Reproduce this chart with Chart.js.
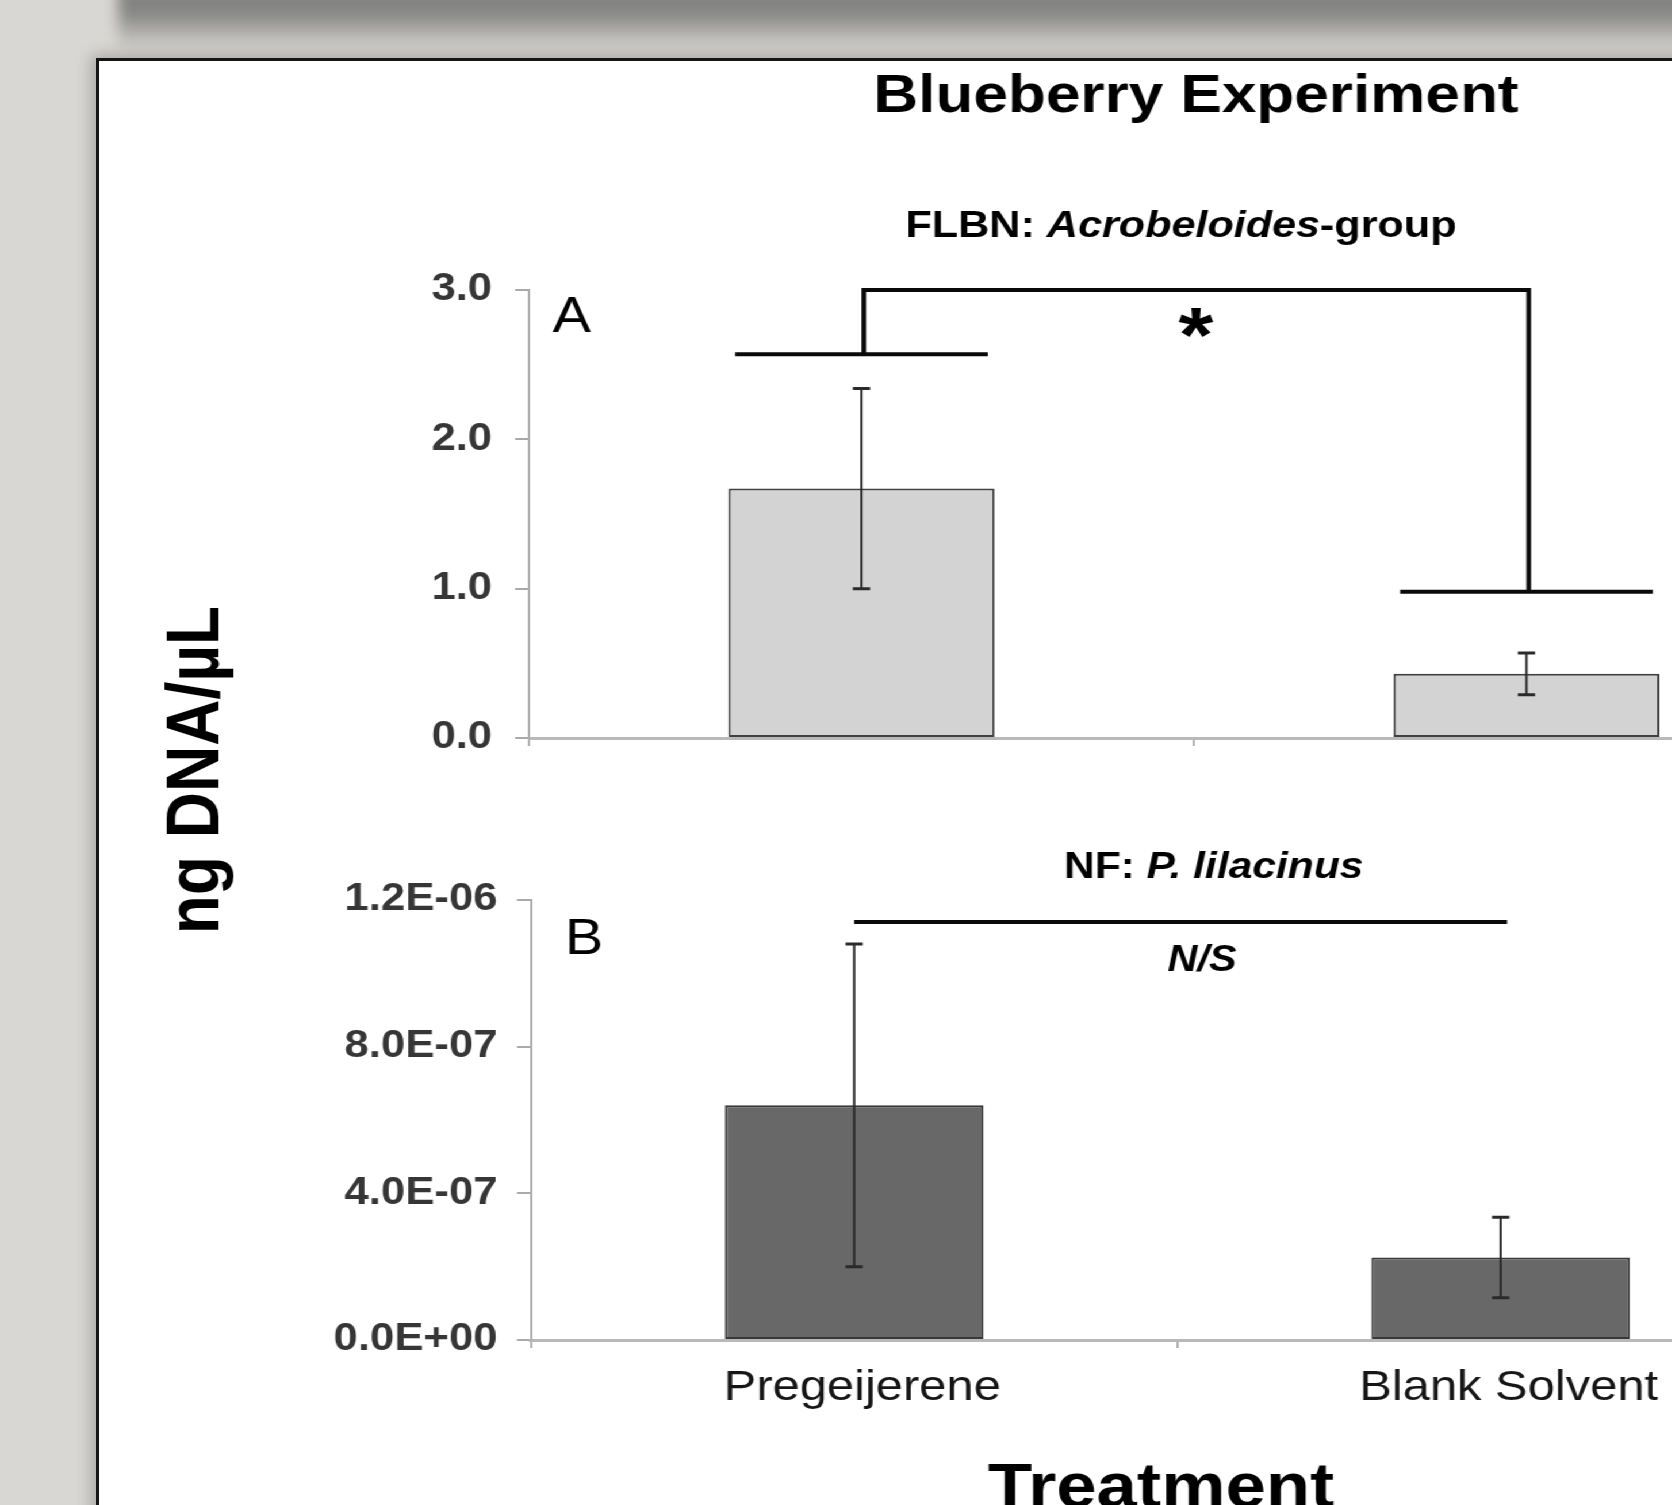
<!DOCTYPE html>
<html>
<head>
<meta charset="utf-8">
<script src="https://cdn.jsdelivr.net/npm/chart.js@4.4.1/dist/chart.umd.min.js"></script>
<style>
  html, body { margin: 0; padding: 0; width: 1672px; height: 1505px; overflow: hidden; background: #d8d7d3; }
  #shade { position: absolute; left: 118px; top: -12px; width: 1700px; height: 64px;
           background: linear-gradient(#7d7d7b 0%, #878785 40%, #b9b8b4 75%, #d5d4d0 100%); filter: blur(7px); }
  #panel { position: absolute; left: 96px; top: 58px; width: 1700px; height: 1600px; background: #fff;
           border-left: 3px solid #151515; border-top: 3px solid #151515; box-shadow: -5px -3px 14px rgba(0,0,0,0.22); }
  /* the figure is drawn slightly wide: everything inside is stretched horizontally */
  #stretch { position: absolute; left: 0; top: 0; width: 1700px; height: 1600px; transform: scaleX(1.15); transform-origin: 0 0; }
  #stretch canvas { position: absolute; left: 0; }
  #chartA { top: 60px; }
  #chartB { top: 780px; }
</style>
</head>
<body>
<div id="shade"></div>
<div id="panel"></div>
<div id="stretch">
  <canvas id="chartA" width="1700" height="940"></canvas>
  <canvas id="chartB" width="1700" height="780"></canvas>
</div>
<script>
// Treatments
const categories = ['Pregeijerene', 'Blank Solvent'];

// FLBN: Acrobeloides-group (ng DNA/µL), mean and standard error
const acroMeans = [1.67, 0.43];
const acroErrors = [0.67, 0.14];
const acroTicks = [0, 1, 2, 3];
// significance bracket levels: over treatment 1, across the top, over treatment 2
const acroBracket = [2.57, 3.0, 0.98];

// NF: P. lilacinus (ng DNA/µL), mean and standard error
const lilacMeans = [6.4e-7, 2.25e-7];
const lilacErrors = [4.4e-7, 1.1e-7];
const lilacTicks = [0, 4e-7, 8e-7, 1.2e-6];
const lilacBracket = 1.14e-6;

const FAMILY = "'Liberation Sans', Arial, Helvetica, sans-serif";
Chart.defaults.font.family = FAMILY;

function sciLabel(v) {
  if (Math.abs(v) < 1e-15) return '0.0E+00';
  const parts = v.toExponential(1).split('e');
  const n = parseInt(parts[1], 10);
  return parts[0] + 'E' + (n < 0 ? '-' : '+') + String(Math.abs(n)).padStart(2, '0');
}

// text made of runs with different fonts
function drawRuns(ctx, runs, x, y, align) {
  let total = 0;
  runs.forEach(r => { ctx.font = r.font; total += ctx.measureText(r.text).width; });
  let cx = align === 'center' ? x - total / 2 : x;
  ctx.textAlign = 'left';
  ctx.textBaseline = 'alphabetic';
  runs.forEach(r => { ctx.font = r.font; ctx.fillText(r.text, cx, y); cx += ctx.measureText(r.text).width; });
}

const errorBars = {
  id: 'errorBars',
  afterDatasetsDraw(chart) {
    const { ctx } = chart;
    const ds = chart.data.datasets[0];
    const y = chart.scales.y;
    ctx.save();
    ctx.strokeStyle = '#2a2a2a';
    chart.getDatasetMeta(0).data.forEach((bar, i) => {
      const top = y.getPixelForValue(ds.data[i] + ds.errors[i]);
      const bot = y.getPixelForValue(ds.data[i] - ds.errors[i]);
      ctx.lineWidth = 2;
      ctx.beginPath();
      ctx.moveTo(bar.x, top); ctx.lineTo(bar.x, bot);
      ctx.stroke();
      ctx.lineWidth = 3;
      ctx.beginPath();
      ctx.moveTo(bar.x - 7.5, top); ctx.lineTo(bar.x + 7.5, top);
      ctx.moveTo(bar.x - 7.5, bot); ctx.lineTo(bar.x + 7.5, bot);
      ctx.stroke();
    });
    ctx.restore();
  }
};

function baseOptions(pad, yWidth, xHeight, ticks, yFmt, yPad) {
  return {
    responsive: false,
    animation: false,
    devicePixelRatio: 1,
    layout: { padding: pad },
    plugins: { legend: { display: false }, tooltip: { enabled: false }, title: { display: false } },
    scales: {
      x: {
        type: 'category',
        offset: true,
        grid: { display: true, offset: true, drawOnChartArea: false, drawTicks: true, tickLength: 8, color: '#b2b2b2', lineWidth: 2 },
        border: { display: true, color: '#b9b9b9', width: 3 },
        ticks: { display: false },
        afterFit: s => { s.height = xHeight; }
      },
      y: {
        min: ticks[0],
        max: ticks[ticks.length - 1],
        grid: { display: true, drawOnChartArea: false, drawTicks: true, tickLength: 12, color: '#a9a9a9', lineWidth: 2 },
        border: { display: true, color: '#adadad', width: 2 },
        ticks: { color: '#363636', padding: yPad, font: { size: 38, weight: 'bold' }, callback: yFmt },
        afterBuildTicks: s => { s.ticks = ticks.map(v => ({ value: v })); },
        afterFit: s => { s.width = yWidth; }
      }
    }
  };
}

// ---- Panel A: Acrobeloides-group ----
const optA = baseOptions({ left: 0, right: 83.5, top: 230, bottom: 0 }, 460, 262, acroTicks, v => v.toFixed(1), 20);

const panelA = {
  id: 'panelA',
  afterDraw(chart) {
    const { ctx } = chart;
    const y = chart.scales.y;
    const bars = chart.getDatasetMeta(0).data;
    ctx.save();
    ctx.fillStyle = '#000';

    // figure title
    ctx.font = `bold 54px ${FAMILY}`;
    ctx.textAlign = 'center';
    ctx.textBaseline = 'alphabetic';
    ctx.fillText('Blueberry Experiment', 1040, 52);

    // panel subtitle
    drawRuns(ctx, [
      { text: 'FLBN: ', font: `bold 37.5px ${FAMILY}` },
      { text: 'Acrobeloides', font: `italic bold 37.5px ${FAMILY}` },
      { text: '-group', font: `bold 37.5px ${FAMILY}` }
    ], 1027, 177, 'center');

    // panel letter
    ctx.font = `50px ${FAMILY}`;
    ctx.textAlign = 'left';
    ctx.fillText('A', 480.6, 272);

    // significance bracket
    const [lvL, lvT, lvR] = acroBracket;
    const x0 = bars[0].x, x1 = bars[1].x;
    const c0 = bars[0].width * 0.475, c1 = bars[1].width * 0.475;
    const yL = y.getPixelForValue(lvL), yT = y.getPixelForValue(lvT), yR = y.getPixelForValue(lvR);
    ctx.strokeStyle = '#0a0a0a';
    ctx.lineWidth = 4;
    ctx.lineCap = 'butt';
    ctx.lineJoin = 'miter';
    ctx.beginPath();
    ctx.moveTo(x0 - c0, yL); ctx.lineTo(x0 + c0, yL);
    ctx.moveTo(x0 + 2, yL); ctx.lineTo(x0 + 2, yT); ctx.lineTo(x1 + 2, yT); ctx.lineTo(x1 + 2, yR);
    ctx.moveTo(x1 - c1, yR); ctx.lineTo(x1 + c1, yR);
    ctx.stroke();

    // significance mark
    ctx.font = `bold 78px ${FAMILY}`;
    const m = ctx.measureText('*');
    ctx.textAlign = 'center';
    ctx.fillText('*', 1040, 248 + m.actualBoundingBoxAscent);

    // shared value axis title
    ctx.save();
    ctx.translate(190.4, 710);
    ctx.rotate(-Math.PI / 2);
    ctx.font = `bold 64px ${FAMILY}`;
    ctx.textAlign = 'center';
    ctx.fillText('ng DNA/\u00B5L', 0, 0);
    ctx.restore();

    ctx.restore();
  }
};

new Chart(document.getElementById('chartA'), {
  type: 'bar',
  data: {
    labels: categories,
    datasets: [{
      data: acroMeans,
      errors: acroErrors,
      backgroundColor: '#d3d3d3',
      borderColor: '#404040',
      borderWidth: 2,
      borderSkipped: false,
      barPercentage: 0.4,
      categoryPercentage: 1.0
    }]
  },
  options: optA,
  plugins: [errorBars, panelA]
});

// ---- Panel B: P. lilacinus ----
const optB = baseOptions({ left: 0, right: 114, top: 120, bottom: 0 }, 461.7, 220, lilacTicks, sciLabel, 17);
optB.scales.x.ticks = { display: true, color: '#161616', padding: 14.5, labelOffset: 7, maxRotation: 0, autoSkip: false, font: { size: 42.5 } };

const panelB = {
  id: 'panelB',
  afterDraw(chart) {
    const { ctx } = chart;
    const y = chart.scales.y;
    const bars = chart.getDatasetMeta(0).data;
    ctx.save();
    ctx.fillStyle = '#000';

    drawRuns(ctx, [
      { text: 'NF: ', font: `bold 37px ${FAMILY}` },
      { text: 'P. lilacinus', font: `italic bold 37px ${FAMILY}` }
    ], 925.2, 98, 'left');

    ctx.font = `50px ${FAMILY}`;
    ctx.textAlign = 'left';
    ctx.fillText('B', 491.3, 174);

    // comparison line
    const yl = y.getPixelForValue(lilacBracket);
    ctx.strokeStyle = '#0a0a0a';
    ctx.lineWidth = 4;
    ctx.beginPath();
    ctx.moveTo(bars[0].x, yl);
    ctx.lineTo(bars[1].x + bars[1].width * 0.025, yl);
    ctx.stroke();

    ctx.font = `italic bold 36px ${FAMILY}`;
    ctx.textAlign = 'center';
    ctx.fillText('N/S', 1045.2, 191);

    // category axis title
    ctx.font = `bold 63px ${FAMILY}`;
    ctx.fillText('Treatment', 1009.6, 727);
    ctx.restore();
  }
};

new Chart(document.getElementById('chartB'), {
  type: 'bar',
  data: {
    labels: categories,
    datasets: [{
      data: lilacMeans,
      errors: lilacErrors,
      backgroundColor: '#686868',
      borderColor: '#383838',
      borderWidth: 2,
      borderSkipped: false,
      barPercentage: 0.4,
      categoryPercentage: 1.0
    }]
  },
  options: optB,
  plugins: [errorBars, panelB]
});
</script>
</body>
</html>
